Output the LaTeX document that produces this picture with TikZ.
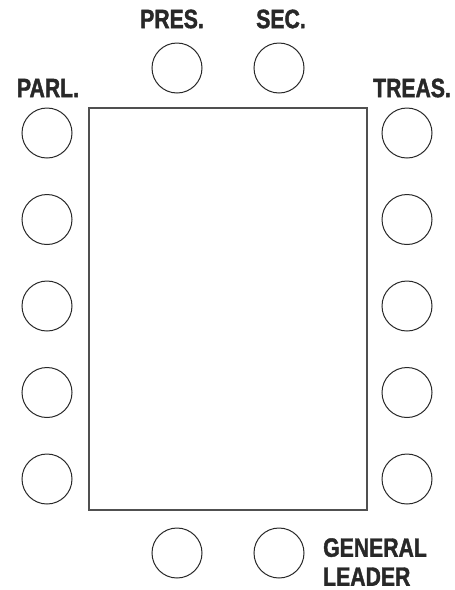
\documentclass[tikz,border=0pt]{standalone}
\usepackage{fontspec}
\newfontfamily\rolefont{Liberation Sans Bold}[FakeStretch=0.8, FakeBold=1.5]
\usepackage{xcolor}
\usepackage{tikz}
\usetikzlibrary{positioning}
\definecolor{SeatGray}{RGB}{40, 40, 40}
\definecolor{TableGray}{RGB}{80, 80, 80}
\tikzset{
    seat/.style={circle, draw=SeatGray, line width=1pt, minimum size=50pt, inner sep=0pt},
    table/.style={rectangle, draw=TableGray, line width=1.3pt, minimum width=278pt, minimum height=402pt, inner sep=0pt},
    role/.style={font=\rolefont\fontsize{26.5}{30}\selectfont, text=SeatGray, inner sep=0pt, align=left}
}

\begin{document}
\begin{tikzpicture}[x=1pt, y=-1pt]
    \useasboundingbox (0,0) rectangle (455,590);
    \node[table] (tbl) at (228,309) {};
    % head of the table
    \node[seat] (pres) at (177,68) {};
    \node[seat] (sec) at (279,68) {};
    \node[role] (presl) at (172,19) {PRES.};
    \node[role] (secl) at (281,19) {SEC.};
    % the two long sides
    \foreach \i/\y in {1/133, 2/219.5, 3/306, 4/392.5, 5/479} {
        \node[seat] (left\i) at (47,\y) {};
        \node[seat] (right\i) at (407,\y) {};
    }
    \node[role] (parl) at (48,88) {PARL.};
    \node[role] (treas) at (412,88) {TREAS.};
    % foot of the table
    \node[seat] (foot1) at (177,553) {};
    \node[seat] (foot2) at (279,553) {};
    \node[role, anchor=west] (gen) at (323,562) {GENERAL\\[-1pt]LEADER};
\end{tikzpicture}
\end{document}
